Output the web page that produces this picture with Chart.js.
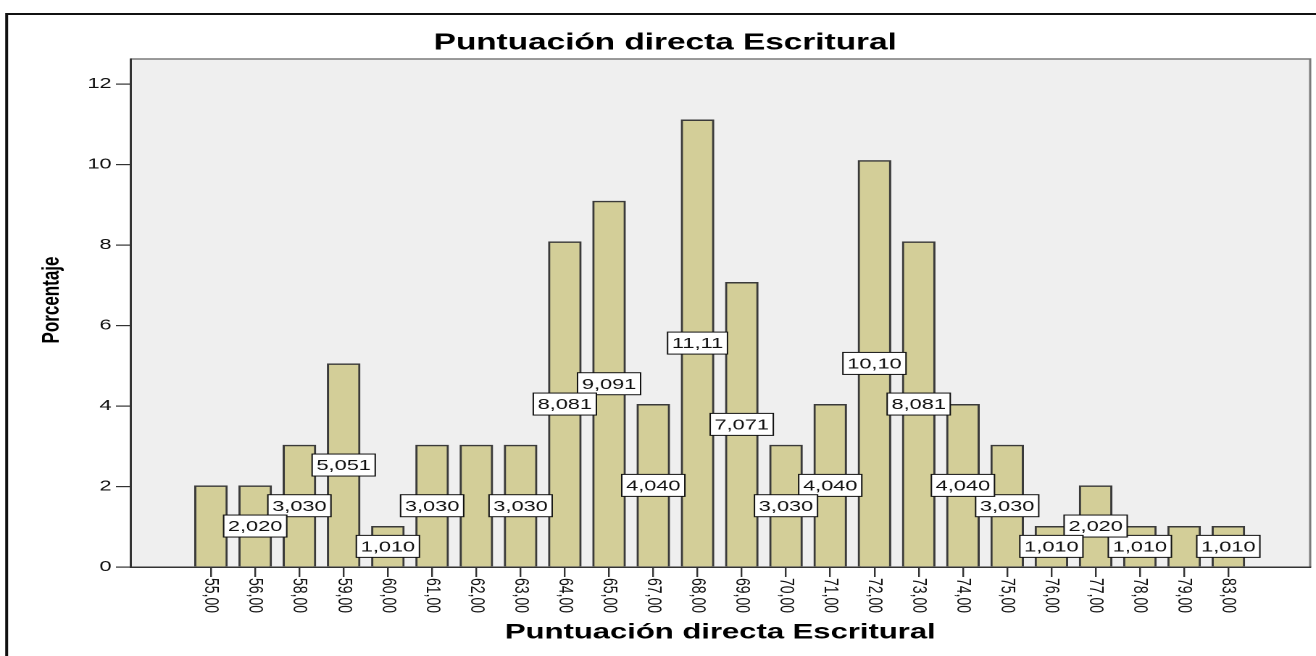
<!DOCTYPE html>
<html>
<head>
<meta charset="utf-8">
<title>Puntuación directa Escritural</title>
<script src="https://cdn.jsdelivr.net/npm/chart.js@4.4.1/dist/chart.umd.min.js"></script>
<style>
html, body { margin: 0; padding: 0; background: #fff; overflow: hidden; }
/* the original export is stretched sideways, so the chart is drawn narrow and scaled */
#wrap { position: absolute; left: 0; top: 0; width: 908px; height: 656px; transform: scaleX(1.4493); transform-origin: 0 0; }
</style>
</head>
<body>
<div id="wrap"><canvas id="histChart"></canvas></div>
<script>
var categories = ['55,00', '56,00', '58,00', '59,00', '60,00', '61,00', '62,00', '63,00', '64,00', '65,00', '67,00', '68,00',
                  '69,00', '70,00', '71,00', '72,00', '73,00', '74,00', '75,00', '76,00', '77,00', '78,00', '79,00', '83,00'];
var percentages = [2.020, 2.020, 3.030, 5.051, 1.010, 3.030, 3.030, 3.030, 8.081, 9.091, 4.040, 11.11,
                   7.071, 3.030, 4.040, 10.10, 8.081, 4.040, 3.030, 1.010, 2.020, 1.010, 1.010, 1.010];
var yTicks = [0, 2, 4, 6, 8, 10, 12];
var chartTitle = 'Puntuación directa Escritural';
var xTitle = 'Puntuación directa Escritural';
var yTitle = 'Porcentaje';

var fontFamily = "'Liberation Sans', Arial, sans-serif";

// Frame, plot background, value boxes and rotated labels (SPSS look)
var spssPlugin = {
    id: 'spss',
    beforeDraw: function(chart) {
        var ctx = chart.ctx;
        var area = chart.chartArea;
        ctx.save();
        ctx.fillStyle = '#fff';
        ctx.fillRect(0, 0, chart.width, chart.height);

        // outer frame
        ctx.strokeStyle = '#111';
        ctx.lineWidth = 2;
        ctx.beginPath();
        ctx.moveTo(4.6, chart.height + 4);
        ctx.lineTo(4.6, 14);
        ctx.lineTo(chart.width + 4, 14);
        ctx.stroke();

        // title
        ctx.fillStyle = '#000';
        ctx.font = 'bold 23px ' + fontFamily;
        ctx.textAlign = 'center';
        ctx.textBaseline = 'middle';
        ctx.fillText(chartTitle, chart.width / 2 + 5, 43);

        // plot background
        ctx.fillStyle = '#efefef';
        ctx.fillRect(area.left, area.top, area.right - area.left, area.bottom - area.top);
        ctx.strokeStyle = '#7a7a7a';
        ctx.lineWidth = 1.5;
        ctx.beginPath();
        ctx.moveTo(area.left, area.top);
        ctx.lineTo(area.right, area.top);
        ctx.lineTo(area.right, area.bottom);
        ctx.stroke();
        ctx.restore();
    },
    afterDatasetsDraw: function(chart) {
        var ctx = chart.ctx;
        var bars = chart.getDatasetMeta(0).data;
        var placed = [];
        ctx.save();
        ctx.font = '15px ' + fontFamily;
        ctx.textAlign = 'center';
        ctx.textBaseline = 'middle';
        // right to left, a label that covers an already drawn one is skipped
        for (var i = bars.length - 1; i >= 0; i--) {
            var text = percentages[i].toPrecision(4).replace('.', ',');
            var w = ctx.measureText(text).width + 6;
            var h = 22;
            var cx = bars[i].x;
            var cy = (bars[i].y + bars[i].base) / 2;
            var box = { l: cx - w / 2, r: cx + w / 2, t: cy - h / 2, b: cy + h / 2 };
            var hidden = placed.some(function(p) {
                var ox = Math.min(p.r, box.r) - Math.max(p.l, box.l);
                var oy = Math.min(p.b, box.b) - Math.max(p.t, box.t);
                return ox > 4 && oy > 4;
            });
            if (hidden) {
                continue;
            }
            placed.push(box);
            ctx.fillStyle = '#fff';
            ctx.fillRect(box.l, box.t, w, h);
            ctx.strokeStyle = '#111';
            ctx.lineWidth = 1;
            ctx.strokeRect(box.l, box.t, w, h);
            ctx.fillStyle = '#111';
            ctx.fillText(text, cx, cy + 1);
        }
        ctx.restore();
    },
    afterDraw: function(chart) {
        var ctx = chart.ctx;
        var area = chart.chartArea;
        var xScale = chart.scales.x;
        ctx.save();

        // category labels turned clockwise
        ctx.font = '14px ' + fontFamily;
        ctx.fillStyle = '#111';
        ctx.textAlign = 'left';
        ctx.textBaseline = 'middle';
        categories.forEach(function(label, i) {
            ctx.save();
            ctx.translate(xScale.getPixelForValue(i), area.bottom + 11);
            ctx.rotate(Math.PI / 2);
            ctx.fillText(label, 0, 0);
            ctx.restore();
        });

        // y axis title
        ctx.font = 'bold 17px ' + fontFamily;
        ctx.fillStyle = '#000';
        ctx.textAlign = 'center';
        ctx.translate(36, (area.top + area.bottom) / 2 - 13);
        ctx.rotate(-Math.PI / 2);
        ctx.fillText(yTitle, 0, 0);
        ctx.restore();
    }
};

var barData = percentages.map(function(v, i) {
    return { x: i, y: v };
});

var chartConfig = {
    type: 'bar',
    data: {
        datasets: [{
            data: barData,
            backgroundColor: '#d3ce98',
            borderColor: '#3a3a3a',
            borderWidth: 1.5,
            barThickness: 22.5
        }]
    },
    options: {
        responsive: true,
        maintainAspectRatio: false,
        animation: false,
        devicePixelRatio: 2,
        layout: { padding: { left: 0, right: 4, top: 59, bottom: 0 } },
        plugins: {
            legend: { display: false },
            tooltip: { enabled: false },
            title: { display: false }
        },
        scales: {
            x: {
                type: 'linear',
                min: -1.82,
                max: 24.85,
                offset: false,
                afterBuildTicks: function(scale) {
                    scale.ticks = categories.map(function(c, i) { return { value: i }; });
                },
                afterFit: function(scale) { scale.height = 89; },
                ticks: { display: false },
                grid: { drawOnChartArea: false, offset: false, tickLength: 10, color: '#333', lineWidth: 1.2 },
                border: { color: '#333', width: 1.5 },
                title: {
                    display: true,
                    text: xTitle,
                    color: '#000',
                    font: { family: fontFamily, size: 21.4, weight: 'bold' },
                    padding: { top: 0, bottom: 10.7 }
                }
            },
            y: {
                min: 0,
                max: 12.62,
                afterBuildTicks: function(scale) {
                    scale.ticks = yTicks.map(function(v) { return { value: v }; });
                },
                afterFit: function(scale) { scale.width = 90; },
                ticks: { color: '#111', padding: 3, font: { family: fontFamily, size: 15 } },
                grid: { drawOnChartArea: false, tickLength: 10, color: '#333', lineWidth: 1.2 },
                border: { color: '#333', width: 1.5 }
            }
        }
    },
    plugins: [spssPlugin]
};

var mainChart = new Chart(document.getElementById('histChart'), chartConfig);
</script>
</body>
</html>
